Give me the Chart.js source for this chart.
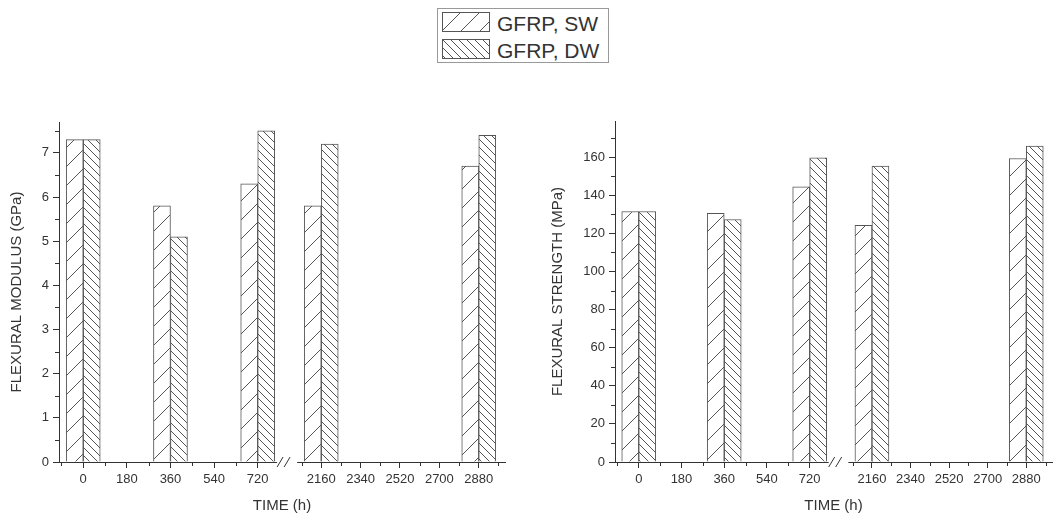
<!DOCTYPE html>
<html>
<head>
<meta charset="utf-8">
<script src="https://cdn.jsdelivr.net/npm/chart.js@4.4.1/dist/chart.umd.min.js"></script>
<style>
  body { margin:0; background:#fff; width:1053px; height:515px; overflow:hidden; position:relative; font-family:"Liberation Sans", Arial, sans-serif; color:#333; }
  .box { position:absolute; }
  #legend { position:absolute; left:437px; top:8px; width:172px; height:55px; border:1px solid #999; box-sizing:border-box; background:#fff; }
  #legend canvas { position:absolute; left:4px; }
  #legend span { position:absolute; left:59px; font-size:21px; line-height:24px; white-space:nowrap; }
</style>
</head>
<body>
<div id="legend">
  <canvas id="swatchSW" width="48" height="20" style="top:3px"></canvas><span style="top:3px">GFRP, SW</span>
  <canvas id="swatchDW" width="48" height="20" style="top:30px"></canvas><span style="top:30px">GFRP, DW</span>
</div>
<div class="box" style="left:0;top:100px;width:520px;height:415px"><canvas id="modulus" width="520" height="415"></canvas></div>
<div class="box" style="left:535px;top:100px;width:518px;height:415px"><canvas id="strength" width="518" height="415"></canvas></div>
<script>
// exposure times (h) and measured values
const times = [0, 360, 720, 2160, 2880];
const modulusSW = [7.3, 5.8, 6.3, 5.8, 6.7];
const modulusDW = [7.3, 5.1, 7.5, 7.2, 7.4];
const strengthSW = [131.5, 130.5, 144.5, 124.3, 159.3];
const strengthDW = [131.5, 127.3, 159.7, 155.3, 165.8];

// axis ticks
const timeTicks = [0, 180, 360, 540, 720, 2160, 2340, 2520, 2700, 2880];
const timeMinor = [-90, 90, 270, 450, 630, 2070, 2250, 2430, 2610, 2790, 2970];
const modulusTicks = [0, 1, 2, 3, 4, 5, 6, 7];
const modulusMinor = [0.5, 1.5, 2.5, 3.5, 4.5, 5.5, 6.5, 7.5];
const strengthTicks = [0, 20, 40, 60, 80, 100, 120, 140, 160];
const strengthMinor = [10, 30, 50, 70, 90, 110, 130, 150, 170];

Chart.defaults.font.family = '"Liberation Sans", Arial, sans-serif';
Chart.defaults.color = '#333';

// linear scale with a gap (axis break) between two value ranges
class BrokenScale extends Chart.LinearScale {
  fracFor(value) {
    const g = this.options.gap;
    if (value <= g.from) return (value - this.min) / (g.from - this.min) * g.startFrac;
    if (value >= g.to) return g.endFrac + (value - g.to) / (this.max - g.to) * (1 - g.endFrac);
    return g.startFrac + (value - g.from) / (g.to - g.from) * (g.endFrac - g.startFrac);
  }
  getPixelForValue(value) {
    return this.left + this.fracFor(value) * this.width;
  }
  getValueForPixel(pixel) {
    const g = this.options.gap;
    const f = (pixel - this.left) / this.width;
    if (f <= g.startFrac) return this.min + f / g.startFrac * (g.from - this.min);
    if (f >= g.endFrac) return g.to + (f - g.endFrac) / (1 - g.endFrac) * (this.max - g.to);
    return g.from;
  }
}
BrokenScale.id = 'broken';
BrokenScale.defaults = Chart.LinearScale.defaults;
Chart.register(BrokenScale);

function hatch(ctx, period, dir) {
  const c = document.createElement('canvas');
  c.width = c.height = period;
  const g = c.getContext('2d');
  g.fillStyle = '#fff';
  g.fillRect(0, 0, period, period);
  g.strokeStyle = '#555';
  g.lineWidth = 1;
  g.beginPath();
  for (const o of [-period, 0, period]) {
    if (dir > 0) { g.moveTo(o, period); g.lineTo(o + period, 0); }
    else { g.moveTo(o, 0); g.lineTo(o + period, period); }
  }
  g.stroke();
  return ctx.createPattern(c, 'repeat');
}

// minor ticks + the "//" break mark on the time axis
const axisExtras = {
  id: 'axisExtras',
  afterDraw(chart, args, opts) {
    const { ctx, chartArea: a } = chart;
    const x = chart.scales.x, y = chart.scales.y;
    ctx.save();
    ctx.strokeStyle = '#333';
    ctx.lineWidth = 1;
    ctx.beginPath();
    timeMinor.forEach(v => {
      const p = Math.round(x.getPixelForValue(v)) + 0.5;
      ctx.moveTo(p, a.bottom); ctx.lineTo(p, a.bottom + 4);
    });
    opts.yMinor.forEach(v => {
      const p = Math.round(y.getPixelForValue(v)) + 0.5;
      ctx.moveTo(a.left - 4, p); ctx.lineTo(a.left, p);
    });
    ctx.stroke();
    const g = x.options.gap;
    const g0 = x.left + g.startFrac * x.width;
    const g1 = x.left + g.endFrac * x.width;
    ctx.fillStyle = '#fff';
    ctx.fillRect(g0, a.bottom - 2, g1 - g0, 4);
    ctx.beginPath();
    ctx.moveTo(g0, a.bottom + 5); ctx.lineTo(g0 + 6, a.bottom - 5);
    ctx.moveTo(g0 + 7, a.bottom + 5); ctx.lineTo(g0 + 13, a.bottom - 5);
    ctx.stroke();
    ctx.restore();
  }
};

function makeChart(id, sw, dw, yTitle, yMax, yTicks, yMinor, pad, yWidth, titlePad) {
  const canvas = document.getElementById(id);
  const ctx = canvas.getContext('2d');
  return new Chart(ctx, {
    type: 'bar',
    data: {
      datasets: [
        { label: 'GFRP, SW', data: times.map((t, i) => ({ x: t, y: sw[i] })),
          backgroundColor: hatch(ctx, 19, 1), borderColor: '#555', borderWidth: 1, barThickness: 17 },
        { label: 'GFRP, DW', data: times.map((t, i) => ({ x: t, y: dw[i] })),
          backgroundColor: hatch(ctx, 8, -1), borderColor: '#555', borderWidth: 1, barThickness: 17 }
      ]
    },
    options: {
      responsive: false,
      animation: false,
      devicePixelRatio: 1,
      layout: { padding: pad },
      plugins: { legend: { display: false }, tooltip: { enabled: false }, axisExtras: { yMinor } },
      scales: {
        x: {
          type: 'broken',
          min: -100, max: 3000,
          offset: false,
          gap: { from: 800, to: 2050, startFrac: 0.489, endFrac: 0.534 },
          afterBuildTicks: s => { s.ticks = timeTicks.map(v => ({ value: v })); },
          afterFit: s => { s.height = 53; },
          ticks: { autoSkip: false, maxRotation: 0, padding: 4, font: { size: 13 }, callback: v => String(v) },
          grid: { display: true, offset: false, drawOnChartArea: false, drawTicks: true, tickLength: 6, tickColor: '#333' },
          border: { display: true, color: '#333', width: 1 },
          title: { display: true, text: 'TIME (h)', font: { size: 15 }, padding: { top: 0, bottom: 0 } }
        },
        y: {
          min: 0, max: yMax,
          afterBuildTicks: s => { s.ticks = yTicks.map(v => ({ value: v })); },
          afterFit: s => { s.width = yWidth; },
          ticks: { padding: 4, font: { size: 13 }, callback: v => String(v) },
          grid: { display: true, drawOnChartArea: false, drawTicks: true, tickLength: 6, tickColor: '#333' },
          border: { display: true, color: '#333', width: 1 },
          title: { display: true, text: yTitle, font: { size: 15 }, padding: { top: titlePad, bottom: 0 } }
        }
      }
    },
    plugins: [axisExtras]
  });
}

makeChart('modulus', modulusSW, modulusDW, 'FLEXURAL MODULUS (GPa)', 7.7, modulusTicks, modulusMinor,
  { top: 22, right: 15, left: 0, bottom: 0 }, 59, 8);
makeChart('strength', strengthSW, strengthDW, 'FLEXURAL STRENGTH (MPa)', 179, strengthTicks, strengthMinor,
  { top: 21, right: 1, left: 0, bottom: 0 }, 80, 14);

// legend swatches
[['swatchSW', 19, 1], ['swatchDW', 8, -1]].forEach(([id, p, d]) => {
  const c = document.getElementById(id);
  const g = c.getContext('2d');
  g.fillStyle = hatch(g, p, d);
  g.fillRect(0, 0, c.width, c.height);
  g.strokeStyle = '#555';
  g.strokeRect(0.5, 0.5, c.width - 1, c.height - 1);
});
</script>
</body>
</html>
